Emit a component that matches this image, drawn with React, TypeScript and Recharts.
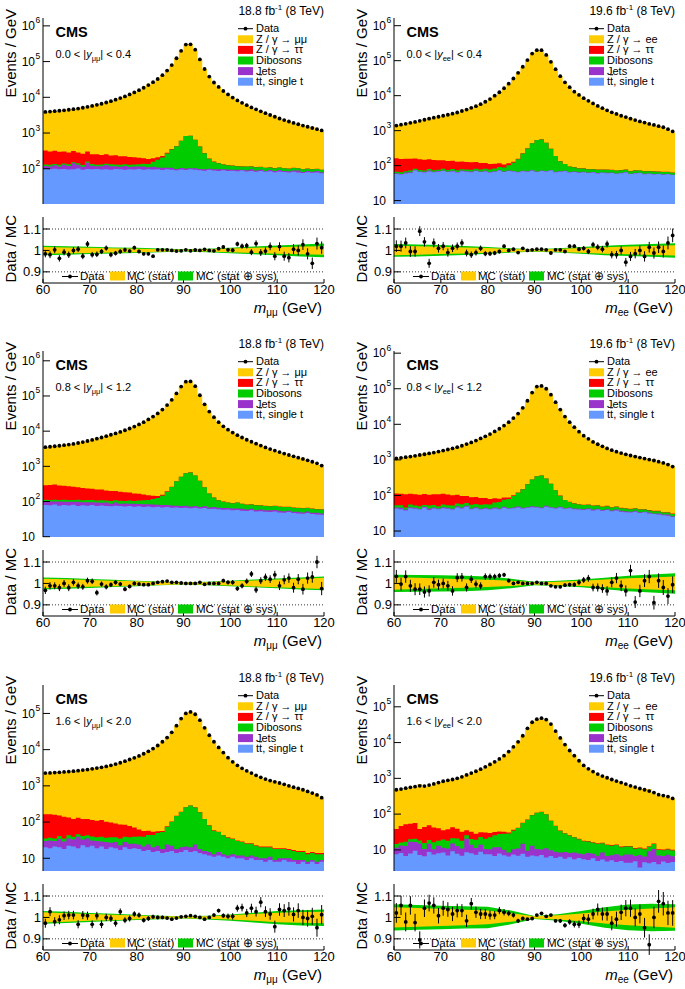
import React from "react";
import { ComposedChart, Area, Scatter, XAxis, YAxis, ErrorBar, ReferenceLine } from "recharts";

const FONT = '"Liberation Sans", Arial, Helvetica, sans-serif';

const COLOR_Z = "#ffcc00";
const COLOR_TAU = "#ff0000";
const COLOR_VV = "#00cc00";
const COLOR_JETS = "#9933cc";
const COLOR_TT = "#6699ff";

const X_TICKS = [60, 70, 80, 90, 100, 110, 120];
const BAND_X = [60, 65, 70, 75, 80, 85, 90, 95, 100, 105, 110, 115, 120];
const RATIO_TICKS = [0.9, 1, 1.1];
const RATIO_DOMAIN = [0.848, 1.156];

// ---- mu mu, 0.0 < |y| < 0.4 ----
const DATA_MM_1 = [
  3900, 3980, 4080, 4200, 4330, 4480, 4650, 4850, 5100, 5400,
  5750, 6150, 6600, 7150, 7800, 8600, 9500, 10600, 12000, 13700,
  15800, 18500, 22000, 26500, 32500, 41500, 56000, 80000, 124000, 200000,
  300000, 305000, 215000, 115000, 62000, 38000, 26000, 19500, 15000, 12000,
  9800, 8200, 7000, 6000, 5200, 4600, 4050, 3600, 3200, 2850,
  2550, 2300, 2100, 1920, 1760, 1620, 1500, 1380, 1280, 1180,
];
const TT_MM_1 = [
  98, 97, 100, 96, 99, 95, 97, 101, 94, 98, 96, 99, 95, 97, 93, 98, 96, 94, 97, 95,
  99, 93, 96, 95, 97, 92, 96, 94, 90, 95, 92, 96, 93, 91, 88, 94, 89, 87, 90, 86,
  88, 85, 89, 84, 87, 83, 86, 82, 85, 80, 84, 81, 78, 83, 79, 76, 80, 77, 79, 75,
];
const JETS_MM_1 = [
  22, 18, 25, 20, 30, 24, 45, 28, 20, 50, 26, 18, 22, 30, 24, 20, 18, 26, 15, 20,
  16, 22, 14, 18, 12, 15, 10, 12, 8, 10, 9, 8, 10, 7, 9, 6, 8, 10, 7, 9,
  6, 8, 5, 7, 9, 6, 8, 5, 7, 6, 8, 5, 7, 6, 10, 5, 7, 6, 8, 5,
];
const VV_MM_1 = [
  12, 14, 11, 13, 12, 15, 11, 14, 13, 12, 14, 13, 15, 12, 16, 14, 15, 13, 17, 16,
  18, 22, 26, 45, 70, 100, 160, 240, 330, 500, 720, 730, 540, 320, 175, 90, 60, 45, 35, 30,
  28, 25, 22, 24, 20, 21, 18, 19, 17, 18, 16, 17, 15, 16, 14, 15, 13, 14, 12, 13,
];
const TAU_MM_1 = [
  190, 175, 185, 170, 165, 150, 160, 140, 135, 145, 120, 125, 110, 115, 100, 105, 95, 90, 85, 80,
  70, 60, 50, 40, 30, 22, 15, 10, 8, 6, 5, 5, 4, 4, 3, 3, 3, 2, 2, 2,
  2, 2, 2, 1, 1, 1, 1, 1, 1, 1, 1, 1, 1, 1, 1, 1, 1, 1, 1, 1,
];
const RATIO_MM_1 = [
  0.984, 0.98, 1.003, 0.963, 0.992, 0.98, 1.0, 1.006, 0.973, 1.03,
  0.98, 0.982, 0.995, 1.011, 0.98, 0.987, 0.995, 1.003, 0.997, 1.013,
  0.995, 0.984, 0.984, 0.973, 1.003, 1.003, 1.003, 1.0, 0.997, 0.998,
  1.003, 0.998, 1.002, 1.0, 1.005, 1.0, 0.998, 1.008, 1.016, 1.003,
  1.001, 1.03, 1.02, 1.022, 0.992, 1.032, 0.99, 0.997, 1.019, 0.973,
  1.018, 0.973, 0.966, 1.006, 1.0, 1.027, 0.984, 0.94, 1.032, 1.013,
];
const ERR_MM_1 = [
  0.016, 0.016, 0.016, 0.015, 0.015, 0.015, 0.015, 0.014, 0.014, 0.014,
  0.013, 0.013, 0.012, 0.012, 0.012, 0.011, 0.01, 0.01, 0.009, 0.009,
  0.008, 0.007, 0.007, 0.006, 0.006, 0.005, 0.004, 0.004, 0.003, 0.002,
  0.002, 0.002, 0.002, 0.003, 0.004, 0.005, 0.006, 0.007, 0.008, 0.009,
  0.01, 0.011, 0.012, 0.013, 0.014, 0.015, 0.016, 0.017, 0.018, 0.019,
  0.02, 0.021, 0.022, 0.023, 0.024, 0.025, 0.026, 0.027, 0.028, 0.029,
];
const STAT_MM_1 = [0.016, 0.014, 0.012, 0.01, 0.008, 0.006, 0.003, 0.005, 0.009, 0.012, 0.015, 0.018, 0.02];
const TOT_MM_1 = [0.022, 0.02, 0.017, 0.014, 0.012, 0.009, 0.005, 0.008, 0.013, 0.018, 0.023, 0.028, 0.032];

// ---- e e, 0.0 < |y| < 0.4 ----
const DATA_EE_1 = [
  1400, 1480, 1570, 1670, 1780, 1910, 2050, 2200, 2350, 2500,
  2670, 2850, 3050, 3300, 3650, 4000, 4500, 5000, 5700, 6700,
  8000, 10000, 12500, 16300, 22000, 31000, 45000, 67000, 104000, 160000,
  200000, 200000, 146000, 93000, 57000, 36000, 24000, 17500, 13000, 10500,
  8500, 7100, 6000, 5100, 4400, 3800, 3350, 3000, 2670, 2450,
  2200, 2000, 1830, 1700, 1560, 1460, 1340, 1250, 1100, 950,
];
const TT_EE_1 = [
  58, 56, 60, 62, 72, 66, 64, 68, 65, 67, 70, 66, 68, 64, 69, 67, 65, 70, 66, 68,
  64, 67, 72, 66, 70, 68, 65, 69, 67, 71, 66, 70, 68, 72, 65, 67, 69, 64, 66, 63,
  65, 62, 64, 60, 63, 61, 62, 59, 61, 64, 58, 60, 62, 57, 59, 56, 58, 55, 57, 54,
];
const JETS_EE_1 = [
  3, 2, 4, 3, 3, 2, 3, 4, 2, 3, 3, 2, 3, 2, 3, 2, 3, 2, 2, 3,
  2, 2, 3, 2, 2, 2, 2, 2, 2, 3, 2, 2, 2, 2, 2, 2, 2, 2, 2, 2,
  2, 2, 2, 2, 1, 2, 2, 1, 2, 2, 1, 2, 1, 2, 1, 2, 1, 2, 1, 1,
];
const VV_EE_1 = [
  6, 7, 5, 8, 6, 7, 6, 8, 7, 6, 8, 7, 9, 8, 7, 9, 8, 10, 9, 10,
  12, 14, 16, 20, 30, 50, 85, 150, 240, 360, 470, 490, 380, 230, 120, 65, 40, 28, 22, 18,
  16, 15, 13, 14, 12, 13, 11, 12, 11, 10, 10, 11, 9, 10, 9, 10, 8, 9, 8, 8,
];
const TAU_EE_1 = [
  95, 90, 88, 85, 80, 78, 75, 72, 70, 66, 62, 60, 58, 55, 52, 50, 48, 45, 42, 38,
  34, 30, 25, 20, 14, 9, 6, 4, 3, 2, 2, 2, 1, 1, 1, 1, 1, 1, 1, 1,
  1, 1, 1, 1, 1, 1, 1, 1, 1, 1, 1, 1, 1, 1, 1, 1, 1, 1, 1, 1,
];
const RATIO_EE_1 = [
  1.02, 1.02, 1.035, 0.995, 0.995, 1.09, 1.04, 0.94, 1.035, 1.01,
  1.02, 0.99, 1.01, 1.02, 1.035, 0.988, 0.98, 0.99, 1.01, 0.985,
  0.985, 0.988, 0.995, 1.02, 1.0, 1.006, 0.99, 1.01, 1.0, 1.003,
  1.006, 1.006, 1.003, 0.988, 1.003, 1.003, 0.995, 1.02, 1.02, 1.006,
  1.01, 0.995, 1.027, 1.015, 1.006, 1.03, 0.98, 0.98, 1.0, 0.945,
  0.972, 0.985, 1.0, 0.972, 1.015, 0.988, 1.015, 0.995, 1.035, 1.07,
];
const ERR_EE_1 = [
  0.027, 0.026, 0.025, 0.025, 0.024, 0.023, 0.022, 0.021, 0.021, 0.02,
  0.019, 0.019, 0.018, 0.017, 0.017, 0.016, 0.015, 0.014, 0.013, 0.012,
  0.011, 0.01, 0.009, 0.008, 0.007, 0.006, 0.005, 0.004, 0.003, 0.003,
  0.002, 0.002, 0.003, 0.003, 0.004, 0.005, 0.006, 0.008, 0.009, 0.01,
  0.011, 0.012, 0.013, 0.014, 0.015, 0.016, 0.017, 0.018, 0.019, 0.02,
  0.021, 0.022, 0.023, 0.024, 0.025, 0.026, 0.027, 0.028, 0.03, 0.032,
];
const STAT_EE_1 = [0.022, 0.02, 0.017, 0.014, 0.011, 0.007, 0.004, 0.007, 0.011, 0.015, 0.018, 0.021, 0.024];
const TOT_EE_1 = [0.03, 0.028, 0.025, 0.021, 0.016, 0.01, 0.006, 0.01, 0.016, 0.022, 0.026, 0.03, 0.034];

// ---- mu mu, 0.8 < |y| < 1.2 ----
const DATA_MM_2 = [
  3500, 3600, 3720, 3850, 4000, 4150, 4350, 4600, 4900, 5250,
  5650, 6100, 6600, 7200, 7900, 8600, 9500, 10600, 11900, 13500,
  15500, 18000, 21500, 26000, 32000, 41000, 55000, 78000, 118000, 185000,
  255000, 260000, 190000, 105000, 58000, 36000, 25000, 18000, 13700, 11000,
  9100, 7700, 6600, 5700, 5000, 4400, 3900, 3450, 3100, 2800,
  2550, 2300, 2100, 1920, 1760, 1620, 1480, 1350, 1220, 1050,
];
const TT_MM_2 = [
  80, 78, 82, 76, 79, 77, 81, 75, 78, 76, 79, 74, 77, 75, 73, 76, 74, 72, 75, 71,
  73, 70, 72, 69, 71, 68, 70, 66, 68, 65, 67, 64, 66, 63, 65, 61, 62, 60, 58, 59,
  56, 57, 55, 54, 56, 52, 53, 51, 50, 52, 49, 48, 50, 47, 46, 45, 47, 44, 43, 42,
];
const JETS_MM_2 = [
  20, 22, 18, 24, 19, 21, 17, 23, 18, 20, 16, 19, 15, 18, 14, 17, 13, 16, 12, 15,
  12, 14, 11, 13, 10, 12, 9, 11, 8, 10, 9, 8, 9, 7, 8, 7, 8, 6, 7, 6,
  7, 6, 7, 5, 6, 5, 6, 5, 6, 5, 6, 5, 5, 4, 5, 4, 5, 4, 5, 4,
];
const VV_MM_2 = [
  12, 10, 13, 11, 14, 12, 13, 15, 12, 14, 15, 13, 16, 14, 17, 15, 18, 16, 19, 18,
  22, 25, 28, 35, 45, 65, 110, 180, 300, 430, 560, 600, 470, 320, 180, 100, 60, 42, 34, 28,
  26, 30, 24, 22, 20, 21, 18, 19, 17, 18, 16, 17, 15, 16, 14, 15, 13, 14, 12, 13,
];
const TAU_MM_2 = [
  180, 185, 190, 175, 170, 160, 150, 140, 135, 125, 120, 115, 110, 100, 95, 90, 85, 80, 75, 65,
  58, 50, 40, 30, 18, 10, 6, 4, 3, 2, 2, 2, 2, 1, 1, 1, 1, 1, 1, 1,
  1, 1, 1, 1, 1, 1, 1, 1, 1, 1, 1, 1, 1, 1, 1, 1, 1, 1, 1, 1,
];
const RATIO_MM_2 = [
  0.968, 0.989, 0.989, 0.98, 1.0, 0.98, 1.005, 0.989, 0.984, 1.013,
  1.01, 0.957, 0.997, 0.984, 0.994, 1.005, 0.997, 0.973, 0.986, 1.0,
  0.997, 0.994, 0.994, 1.0, 1.005, 1.008, 1.011, 1.005, 1.005, 1.002,
  1.0, 1.0, 1.0, 1.005, 0.996, 1.0, 1.0, 1.0, 1.013, 1.005,
  1.005, 0.976, 0.989, 1.01, 1.044, 0.97, 1.013, 1.029, 1.02, 1.04,
  0.989, 1.017, 1.025, 0.98, 1.02, 0.973, 1.025, 1.03, 1.1, 0.976,
];
const ERR_MM_2 = [
  0.017, 0.017, 0.016, 0.016, 0.016, 0.016, 0.015, 0.015, 0.014, 0.014,
  0.013, 0.013, 0.012, 0.012, 0.011, 0.011, 0.01, 0.01, 0.009, 0.009,
  0.008, 0.007, 0.007, 0.006, 0.006, 0.005, 0.004, 0.004, 0.003, 0.002,
  0.002, 0.002, 0.002, 0.003, 0.004, 0.005, 0.006, 0.007, 0.009, 0.01,
  0.011, 0.011, 0.012, 0.013, 0.014, 0.015, 0.016, 0.017, 0.018, 0.019,
  0.02, 0.021, 0.022, 0.023, 0.024, 0.025, 0.026, 0.027, 0.029, 0.031,
];
const STAT_MM_2 = [0.022, 0.019, 0.016, 0.013, 0.01, 0.007, 0.004, 0.006, 0.01, 0.014, 0.018, 0.022, 0.026];
const TOT_MM_2 = [0.028, 0.025, 0.021, 0.017, 0.013, 0.009, 0.005, 0.008, 0.013, 0.018, 0.023, 0.028, 0.032];

// ---- e e, 0.8 < |y| < 1.2 ----
const DATA_EE_2 = [
  1100, 1140, 1190, 1240, 1300, 1370, 1440, 1520, 1610, 1710,
  1830, 1960, 2100, 2280, 2500, 2780, 3100, 3500, 4000, 4600,
  5300, 6300, 7500, 9200, 11500, 15000, 20000, 29000, 46000, 78000,
  115000, 120000, 100000, 68000, 42000, 26000, 16500, 11500, 8300, 6200,
  4800, 3900, 3200, 2750, 2400, 2100, 1880, 1700, 1550, 1430,
  1330, 1240, 1160, 1090, 1020, 960, 890, 820, 740, 650,
];
const TT_EE_2 = [
  43, 41, 38, 44, 42, 40, 45, 39, 43, 41, 44, 42, 40, 46, 43, 48, 41, 44, 40, 42,
  40, 43, 41, 45, 42, 44, 46, 43, 45, 47, 46, 44, 48, 45, 43, 46, 42, 44, 41, 40,
  39, 41, 38, 40, 37, 39, 36, 38, 35, 34, 33, 35, 32, 34, 31, 30, 29, 28, 27, 25,
];
const JETS_EE_2 = [
  3, 4, 2, 3, 3, 2, 3, 4, 3, 2, 3, 3, 2, 4, 3, 3, 2, 3, 2, 3,
  2, 3, 2, 3, 2, 2, 3, 2, 2, 3, 2, 2, 3, 2, 2, 2, 2, 2, 2, 2,
  2, 2, 2, 2, 2, 2, 2, 2, 2, 2, 2, 2, 2, 1, 2, 1, 2, 1, 2, 1,
];
const VV_EE_2 = [
  7, 8, 6, 9, 7, 8, 6, 9, 8, 7, 9, 8, 10, 9, 11, 10, 12, 11, 13, 12,
  14, 17, 22, 28, 35, 50, 70, 105, 160, 230, 300, 320, 250, 165, 95, 50, 30, 20, 16, 14,
  13, 12, 11, 10, 9, 9, 8, 8, 7, 7, 6, 6, 6, 5, 5, 5, 5, 4, 4, 4,
];
const TAU_EE_2 = [
  60, 58, 62, 55, 57, 54, 56, 52, 55, 58, 56, 53, 50, 45, 40, 36, 34, 32, 30, 28,
  24, 20, 16, 12, 8, 5, 3, 2, 2, 2, 1, 1, 1, 1, 1, 1, 1, 1, 1, 1,
  1, 1, 1, 1, 1, 1, 1, 1, 1, 1, 1, 1, 1, 1, 1, 1, 1, 1, 1, 1,
];
const RATIO_EE_2 = [
  1.033, 0.997, 1.032, 0.989, 0.973, 0.973, 0.96, 0.965, 1.005, 0.994,
  1.0, 0.989, 0.965, 1.027, 1.029, 0.981, 1.02, 0.997, 0.989, 1.032,
  1.032, 1.032, 1.036, 1.04, 1.013, 1.0, 1.005, 1.0, 1.0, 1.0,
  1.005, 1.0, 1.0, 0.989, 0.984, 0.984, 0.992, 0.994, 0.994, 1.005,
  1.016, 1.024, 0.981, 0.981, 0.976, 0.965, 1.005, 1.025, 0.989, 0.965,
  1.06, 0.913, 0.965, 1.013, 1.032, 0.91, 1.013, 0.981, 0.941, 0.994,
];
const ERR_EE_2 = [
  0.03, 0.03, 0.029, 0.028, 0.028, 0.027, 0.026, 0.026, 0.025, 0.024,
  0.023, 0.023, 0.022, 0.021, 0.02, 0.019, 0.018, 0.017, 0.016, 0.015,
  0.014, 0.013, 0.012, 0.01, 0.009, 0.008, 0.007, 0.006, 0.005, 0.004,
  0.003, 0.003, 0.003, 0.004, 0.005, 0.006, 0.008, 0.009, 0.011, 0.013,
  0.014, 0.016, 0.018, 0.019, 0.02, 0.022, 0.023, 0.024, 0.025, 0.026,
  0.027, 0.028, 0.029, 0.03, 0.031, 0.032, 0.034, 0.035, 0.037, 0.039,
];
const STAT_EE_2 = [0.029, 0.026, 0.023, 0.02, 0.017, 0.012, 0.005, 0.008, 0.012, 0.018, 0.024, 0.028, 0.032];
const TOT_EE_2 = [0.04, 0.039, 0.038, 0.036, 0.032, 0.022, 0.008, 0.012, 0.018, 0.027, 0.036, 0.042, 0.048];

// ---- mu mu, 1.6 < |y| < 2.0 ----
const DATA_MM_3 = [
  2250, 2280, 2320, 2370, 2420, 2480, 2550, 2630, 2720, 2820,
  2950, 3100, 3250, 3450, 3700, 4000, 4350, 4800, 5350, 5950,
  6700, 7700, 9000, 10700, 13000, 16500, 21500, 30000, 46000, 72000,
  100000, 110000, 95000, 65000, 40000, 25000, 16500, 11500, 8300, 6000,
  4600, 3700, 3050, 2600, 2250, 1950, 1720, 1540, 1400, 1290,
  1200, 1100, 1000, 920, 850, 780, 700, 630, 560, 470,
];
const TT_MM_3 = [
  20, 19, 21, 20, 18, 22, 21, 19, 23, 20, 22, 19, 21, 18, 20, 19, 17, 20, 18, 19,
  18, 16, 17, 15, 16, 14, 15, 16, 14, 15, 17, 15, 16, 14, 13, 12, 11, 12, 11, 10,
  11, 10, 10, 9, 10, 9, 9, 8, 9, 8, 8, 9, 8, 8, 7, 8, 7, 8, 7, 8,
];
const JETS_MM_3 = [
  10, 12, 9, 14, 11, 13, 12, 20, 10, 16, 9, 11, 8, 10, 7, 9, 6, 8, 7, 6,
  6, 5, 7, 5, 6, 4, 9, 6, 4, 5, 4, 5, 8, 4, 3, 3, 2, 3, 2, 2,
  2, 2, 2, 2, 2, 2, 1, 2, 2, 1, 2, 1, 2, 1, 2, 1, 1, 1, 1, 1,
];
const VV_MM_3 = [
  5, 6, 5, 7, 6, 8, 6, 7, 8, 7, 9, 8, 10, 9, 11, 10, 12, 11, 13, 14,
  16, 18, 20, 24, 28, 35, 50, 80, 130, 170, 235, 265, 230, 170, 105, 65, 45, 38, 30, 25,
  21, 18, 16, 14, 13, 11, 10, 10, 9, 9, 8, 8, 7, 7, 6, 6, 5, 5, 5, 4,
];
const TAU_MM_3 = [
  130, 128, 125, 110, 105, 90, 82, 85, 80, 78, 74, 70, 75, 65, 60, 53, 50, 45, 40, 32,
  22, 18, 14, 10, 6, 4, 3, 2, 2, 2, 1, 1, 1, 1, 1, 1, 1, 1, 1, 1,
  1, 1, 1, 1, 1, 1, 1, 1, 1, 1, 1, 1, 1, 1, 1, 1, 1, 1, 1, 1,
];
const RATIO_MM_3 = [
  0.973, 1.027, 0.98, 0.989, 1.008, 1.011, 1.011, 0.968, 1.011, 1.008,
  0.968, 1.008, 0.968, 1.0, 0.995, 0.973, 1.027, 0.987, 0.995, 1.016,
  1.011, 0.987, 0.995, 1.003, 1.0, 1.0, 0.997, 0.992, 0.997, 1.003,
  1.005, 1.008, 1.005, 1.0, 0.992, 1.0, 1.011, 1.032, 1.008, 1.005,
  1.005, 1.043, 1.046, 1.021, 1.043, 1.027, 1.071, 1.027, 1.016, 0.957,
  1.037, 1.032, 1.04, 1.014, 1.032, 1.0, 0.995, 1.005, 0.952, 1.013,
];
const ERR_MM_3 = [
  0.021, 0.021, 0.021, 0.021, 0.02, 0.02, 0.02, 0.019, 0.019, 0.019,
  0.018, 0.018, 0.018, 0.017, 0.016, 0.016, 0.015, 0.014, 0.014, 0.013,
  0.012, 0.011, 0.011, 0.01, 0.009, 0.008, 0.007, 0.006, 0.005, 0.004,
  0.003, 0.003, 0.003, 0.004, 0.005, 0.006, 0.008, 0.009, 0.011, 0.013,
  0.015, 0.016, 0.018, 0.019, 0.021, 0.023, 0.024, 0.025, 0.027, 0.028,
  0.029, 0.03, 0.032, 0.033, 0.034, 0.036, 0.038, 0.04, 0.042, 0.045,
];
const STAT_MM_3 = [0.024, 0.02, 0.016, 0.013, 0.009, 0.006, 0.004, 0.006, 0.01, 0.016, 0.022, 0.025, 0.027];
const TOT_MM_3 = [0.03, 0.026, 0.021, 0.017, 0.012, 0.008, 0.005, 0.008, 0.014, 0.022, 0.03, 0.034, 0.037];
const TOT_LO_MM_3 = [0.03, 0.026, 0.021, 0.017, 0.012, 0.008, 0.005, 0.01, 0.016, 0.024, 0.032, 0.038, 0.04];

// ---- e e, 1.6 < |y| < 2.0 ----
const DATA_EE_3 = [
  480, 500, 530, 560, 590, 620, 610, 650, 700, 760,
  830, 880, 930, 1000, 1100, 1250, 1400, 1580, 1800, 2100,
  2450, 2900, 3500, 4300, 5600, 7600, 10500, 15500, 25000, 37000,
  45000, 48000, 44000, 33000, 21000, 13500, 8800, 6000, 4300, 3100,
  2300, 1850, 1550, 1320, 1160, 1040, 930, 840, 760, 690,
  620, 570, 520, 480, 440, 400, 350, 330, 310, 275,
];
const TT_EE_3 = [
  7.5, 8.2, 6.8, 7.9, 9.5, 7.2, 6.6, 8.8, 7.4, 8.1, 8.4, 7.0, 9.2, 7.8, 6.9, 8.6, 8.0, 7.3, 8.9, 7.6,
  7.5, 6.8, 7.9, 7.1, 6.5, 7.4, 6.9, 7.8, 6.4, 7.0, 6.6, 7.2, 6.1, 6.8, 5.9, 6.4, 5.7, 6.2, 5.5, 5.9,
  5.5, 5.2, 5.8, 4.9, 5.4, 4.7, 5.1, 4.6, 4.9, 4.4, 4.4, 4.8, 3.2, 4.5, 4.2, 4.6, 4.0, 4.7, 4.3, 4.6,
];
const JETS_EE_3 = [
  4, 5, 6, 9, 7, 8, 4, 6, 3, 5, 3, 4, 6, 5, 4, 12, 6, 4, 5, 3,
  3, 5, 4, 3, 2, 3, 4, 7, 3, 6, 4, 3, 5, 3, 3, 2, 3, 2, 3, 2,
  2, 3, 2, 2, 3, 2, 2, 3, 2, 3, 3, 2, 4, 2, 5, 6, 3, 2, 3, 2,
];
const VV_EE_3 = [
  3, 3, 4, 3, 4, 3, 5, 4, 6, 5, 8, 7, 6, 8, 7, 5, 6, 8, 9, 10,
  12, 14, 16, 18, 20, 24, 30, 42, 60, 80, 98, 105, 88, 55, 38, 26, 20, 17, 14, 12,
  10, 9, 8, 8, 7, 7, 6, 6, 5, 5, 5, 4, 4, 4, 3, 4, 3, 3, 3, 3,
];
const TAU_EE_3 = [
  24, 30, 35, 34, 36, 20, 28, 30, 26, 22, 16, 20, 22, 18, 14, 10, 12, 9, 8, 10,
  7, 6, 5, 4, 2, 2, 1, 1, 1, 1, 0.5, 0.5, 0.5, 0.5, 0.5, 0.5, 0.5, 0.5, 0.5, 0.5,
  0.5, 0.5, 0.5, 0.5, 0.5, 0.5, 0.5, 0.5, 0.5, 0.5, 0.5, 0.5, 0.5, 0.5, 0.5, 0.5, 0.5, 0.5, 0.5, 0.5,
];
const RATIO_EE_3 = [
  1.021, 1.056, 0.979, 1.056, 0.976, 0.895, 1.043, 1.067, 1.056, 1.008,
  1.043, 1.037, 1.016, 1.032, 1.032, 0.984, 1.064, 1.024, 1.016, 1.016,
  1.011, 1.011, 1.032, 1.024, 1.019, 1.011, 0.984, 0.995, 0.992, 0.995,
  1.011, 1.019, 1.005, 1.011, 0.984, 0.984, 0.963, 0.979, 0.968, 0.968,
  0.995, 0.992, 1.016, 1.037, 1.016, 1.016, 0.973, 0.992, 1.024, 1.043,
  1.043, 1.0, 1.016, 0.952, 0.873, 1.0, 1.075, 1.064, 1.021, 1.021,
];
const ERR_EE_3 = [
  0.046, 0.045, 0.044, 0.043, 0.041, 0.04, 0.041, 0.039, 0.038, 0.036,
  0.035, 0.034, 0.033, 0.032, 0.03, 0.029, 0.027, 0.026, 0.024, 0.023,
  0.021, 0.019, 0.017, 0.015, 0.013, 0.012, 0.01, 0.008, 0.006, 0.005,
  0.005, 0.005, 0.005, 0.006, 0.007, 0.009, 0.011, 0.013, 0.015, 0.018,
  0.021, 0.023, 0.025, 0.028, 0.03, 0.031, 0.033, 0.035, 0.036, 0.038,
  0.04, 0.042, 0.044, 0.046, 0.048, 0.05, 0.053, 0.055, 0.057, 0.06,
];
const STAT_EE_3 = [0.047, 0.044, 0.04, 0.036, 0.032, 0.02, 0.005, 0.01, 0.018, 0.028, 0.036, 0.042, 0.048];
const TOT_EE_3 = [0.061, 0.058, 0.055, 0.052, 0.05, 0.032, 0.007, 0.015, 0.03, 0.048, 0.06, 0.064, 0.062];

const PANELS = [
  { ch: "μμ", lumi: "18.8", yLo: "0.0", yHi: "0.4", yDomain: [10.3, 1.66e6], data: DATA_MM_1, tt: TT_MM_1, jets: JETS_MM_1, vv: VV_MM_1, tau: TAU_MM_1, ratio: RATIO_MM_1, err: ERR_MM_1, stat: STAT_MM_1, tot: TOT_MM_1 },
  { ch: "ee", lumi: "19.6", yLo: "0.0", yHi: "0.4", yDomain: [8.0, 1.66e6], data: DATA_EE_1, tt: TT_EE_1, jets: JETS_EE_1, vv: VV_EE_1, tau: TAU_EE_1, ratio: RATIO_EE_1, err: ERR_EE_1, stat: STAT_EE_1, tot: TOT_EE_1 },
  { ch: "μμ", lumi: "18.8", yLo: "0.8", yHi: "1.2", yDomain: [9.8, 1.9e6], data: DATA_MM_2, tt: TT_MM_2, jets: JETS_MM_2, vv: VV_MM_2, tau: TAU_MM_2, ratio: RATIO_MM_2, err: ERR_MM_2, stat: STAT_MM_2, tot: TOT_MM_2 },
  { ch: "ee", lumi: "19.6", yLo: "0.8", yHi: "1.2", yDomain: [6.8, 1.15e6], data: DATA_EE_2, tt: TT_EE_2, jets: JETS_EE_2, vv: VV_EE_2, tau: TAU_EE_2, ratio: RATIO_EE_2, err: ERR_EE_2, stat: STAT_EE_2, tot: TOT_EE_2 },
  { ch: "μμ", lumi: "18.8", yLo: "1.6", yHi: "2.0", yDomain: [4.45, 6.1e5], data: DATA_MM_3, tt: TT_MM_3, jets: JETS_MM_3, vv: VV_MM_3, tau: TAU_MM_3, ratio: RATIO_MM_3, err: ERR_MM_3, stat: STAT_MM_3, tot: TOT_MM_3, totLo: TOT_LO_MM_3 },
  { ch: "ee", lumi: "19.6", yLo: "1.6", yHi: "2.0", yDomain: [2.57, 4.07e5], data: DATA_EE_3, tt: TT_EE_3, jets: JETS_EE_3, vv: VV_EE_3, tau: TAU_EE_3, ratio: RATIO_EE_3, err: ERR_EE_3, stat: STAT_EE_3, tot: TOT_EE_3 },
];

// layout (px)
const COL_X = [43, 394];
const ROW_Y = [0, 333, 667];
const PW = 281;
const YW = 43;
const PAD = 9; // room round each chart so edge labels are not clipped
const MAIN_TOP = 18;
const MAIN_H = 186;
const RATIO_TOP = 217;
const RATIO_H = 66;
const XLAB_H = 24;

const LINE = { stroke: "#000", strokeWidth: 1 };
const CHART_MARGIN = { top: PAD, right: PAD + 6, bottom: PAD, left: 0 };
const X_MINOR = Array.from({ length: 31 }, (_, i) => 60 + 2 * i);
const RATIO_MINOR = Array.from({ length: 15 }, (_, i) => Math.round((0.86 + 0.02 * i) * 100) / 100);

function logTicks(lo: number, hi: number) {
  const majors: number[] = [];
  const minors: number[] = [];
  for (let e = Math.floor(Math.log10(lo)); e <= Math.ceil(Math.log10(hi)); e++) {
    const base = Math.pow(10, e);
    if (base >= lo && base <= hi) majors.push(base);
    for (let m = 2; m <= 9; m++) {
      const v = m * base;
      if (v >= lo && v <= hi) minors.push(v);
    }
  }
  return { majors, minors };
}

const DataDot = (props: any) => <circle cx={props.cx} cy={props.cy} r={1.9} fill="#000" />;

function LogTick(props: any) {
  const { x, y, payload } = props;
  const exp = Math.round(Math.log10(payload.value));
  return (
    <g fontFamily={FONT} fill="#000">
      <text x={x} y={y + 4.3} textAnchor="end" fontSize={12}>10</text>
      {exp > 1 && (
        <text x={x + 0.5} y={y - 2.5} textAnchor="start" fontSize={8.5}>{exp}</text>
      )}
    </g>
  );
}

function MainPlot({ p, px, py }: any) {
  const rows: any[] = [];
  const n = p.data.length;
  for (let i = 0; i <= n; i++) {
    const k = Math.min(i, n - 1);
    const tt = p.tt[k];
    const jets = tt + p.jets[k];
    const vv = jets + p.vv[k];
    const tau = vv + p.tau[k];
    const mc = Math.max(p.data[k] / p.ratio[k], tau);
    rows.push({ x: 60 + i, tt, jets, vv, tau, mc });
  }
  const points = p.data.map((v: number, i: number) => ({ x: 60.5 + i, y: v }));
  const [lo, hi] = p.yDomain;
  const { majors, minors } = logTicks(lo, hi);
  const layers: [string, string][] = [
    ["mc", COLOR_Z],
    ["tau", COLOR_TAU],
    ["vv", COLOR_VV],
    ["jets", COLOR_JETS],
    ["tt", COLOR_TT],
  ];
  const xCommon = { type: "number" as const, domain: [60, 120], allowDataOverflow: true, interval: 0 as const, tick: false, tickLine: LINE };
  const yCommon = { type: "number" as const, scale: "log" as const, domain: [lo, hi], allowDataOverflow: true, interval: 0 as const, tickLine: LINE };
  return (
    <div style={{ position: "absolute", left: px - YW, top: py - PAD }}>
      <ComposedChart width={YW + PW + PAD + 6} height={MAIN_H + 2 * PAD} data={rows} margin={CHART_MARGIN}>
        {layers.map(([key, color]) => (
          <Area
            key={key}
            xAxisId="x"
            yAxisId="y"
            type="stepAfter"
            dataKey={key}
            stroke="none"
            fill={color}
            fillOpacity={1}
            baseValue={lo}
            isAnimationActive={false}
          />
        ))}
        <Scatter xAxisId="x" yAxisId="y" data={points} dataKey="y" shape={DataDot} isAnimationActive={false} />
        <XAxis xAxisId="xm" {...xCommon} ticks={X_MINOR} height={0} tickSize={-2.8} axisLine={false} />
        <XAxis xAxisId="x" dataKey="x" {...xCommon} ticks={X_TICKS} height={0} tickSize={-5.5} axisLine={LINE} />
        <XAxis xAxisId="xtm" orientation="top" {...xCommon} ticks={X_MINOR} height={0} tickSize={-2.8} axisLine={false} />
        <XAxis xAxisId="xt" orientation="top" {...xCommon} ticks={X_TICKS} height={0} tickSize={-5.5} axisLine={LINE} />
        <YAxis yAxisId="ym" {...yCommon} ticks={minors} width={0} tick={false} tickSize={-3.5} axisLine={false} />
        <YAxis yAxisId="y" {...yCommon} ticks={majors} width={YW} tick={<LogTick />} tickSize={-7} tickMargin={15} axisLine={LINE} />
        <YAxis yAxisId="yrm" orientation="right" {...yCommon} ticks={minors} width={0} tick={false} tickSize={-3.5} axisLine={false} />
        <YAxis yAxisId="yr" orientation="right" {...yCommon} ticks={majors} width={0} tick={false} tickSize={-7} axisLine={LINE} />
      </ComposedChart>
    </div>
  );
}

function RatioPlot({ p, px, py }: any) {
  const lowTot = p.totLo || p.tot;
  const band = BAND_X.map((x, i) => ({
    x,
    tot: [1 - lowTot[i], 1 + p.tot[i]],
    stat: [1 - p.stat[i], 1 + p.stat[i]],
  }));
  const points = p.ratio.map((r: number, i: number) => ({ x: 60.5 + i, y: r, e: p.err[i] }));
  const xCommon = { type: "number" as const, domain: [60, 120], allowDataOverflow: true, interval: 0 as const, tickLine: LINE };
  const yCommon = { type: "number" as const, domain: RATIO_DOMAIN, allowDataOverflow: true, interval: 0 as const, tickLine: LINE };
  const tickFont = { fontSize: 13, fill: "#000", fontFamily: FONT };
  return (
    <div style={{ position: "absolute", left: px - YW, top: py - PAD }}>
      <ComposedChart
        width={YW + PW + PAD + 6}
        height={RATIO_H + XLAB_H + 2 * PAD}
        data={band}
        margin={CHART_MARGIN}
      >
        <Area xAxisId="x" yAxisId="y" type="linear" dataKey="tot" stroke="none" fill={COLOR_VV} fillOpacity={1} isAnimationActive={false} />
        <Area xAxisId="x" yAxisId="y" type="linear" dataKey="stat" stroke="none" fill={COLOR_Z} fillOpacity={1} isAnimationActive={false} />
        <ReferenceLine xAxisId="x" yAxisId="y" y={1.1} stroke="#000" strokeWidth={0.8} strokeDasharray="1 2" />
        <ReferenceLine xAxisId="x" yAxisId="y" y={0.9} stroke="#000" strokeWidth={0.8} strokeDasharray="1 2" />
        <Scatter xAxisId="x" yAxisId="y" data={points} dataKey="y" shape={DataDot} isAnimationActive={false}>
          <ErrorBar dataKey="e" direction="y" width={0} stroke="#000" strokeWidth={1} />
        </Scatter>
        <XAxis xAxisId="xm" {...xCommon} ticks={X_MINOR} height={0} tick={false} tickSize={-2} axisLine={false} />
        <XAxis xAxisId="x" dataKey="x" {...xCommon} ticks={X_TICKS} height={XLAB_H} tick={tickFont} tickSize={-4} tickMargin={6} axisLine={LINE} />
        <XAxis xAxisId="xtm" orientation="top" {...xCommon} ticks={X_MINOR} height={0} tick={false} tickSize={-2} axisLine={false} />
        <XAxis xAxisId="xt" orientation="top" {...xCommon} ticks={X_TICKS} height={0} tick={false} tickSize={-4} axisLine={LINE} />
        <YAxis yAxisId="ym" {...yCommon} ticks={RATIO_MINOR} width={0} tick={false} tickSize={-3.5} axisLine={false} />
        <YAxis
          yAxisId="y"
          {...yCommon}
          ticks={RATIO_TICKS}
          width={YW}
          tick={tickFont}
          tickFormatter={(v: number) => (v === 1 ? "1" : v.toFixed(1))}
          tickSize={-6.5}
          tickMargin={8.5}
          axisLine={LINE}
        />
        <YAxis yAxisId="yrm" orientation="right" {...yCommon} ticks={RATIO_MINOR} width={0} tick={false} tickSize={-3.5} axisLine={false} />
        <YAxis yAxisId="yr" orientation="right" {...yCommon} ticks={RATIO_TICKS} width={0} tick={false} tickSize={-6.5} axisLine={LINE} />
      </ComposedChart>
    </div>
  );
}

function PanelText({ p, px, ry }: any) {
  const pr = px + PW;
  const legend: { label: React.ReactNode; color: string }[] = [
    { label: `Z / γ → ${p.ch}`, color: COLOR_Z },
    { label: "Z / γ → ττ", color: COLOR_TAU },
    { label: "Dibosons", color: COLOR_VV },
    { label: "Jets", color: COLOR_JETS },
    {
      label: (
        <>
          t<tspan textDecoration="overline">t</tspan>, single t
        </>
      ),
      color: COLOR_TT,
    },
  ];
  const lb = (k: number) => ry + 32.2 + k * 10.6;
  const rb = ry + 280;
  return (
    <g fontFamily={FONT} fill="#000">
      <text x={pr} y={ry + 15} textAnchor="end" fontSize={12}>
        {p.lumi} fb<tspan dy={-5} fontSize={8}>-1</tspan>
        <tspan dy={5}> (8 TeV)</tspan>
      </text>
      <text x={px + 12.5} y={ry + 37} fontSize={14.5} fontWeight="bold">CMS</text>
      <text x={px + 12.5} y={ry + 58} fontSize={11}>
        {p.yLo} &lt; |<tspan fontStyle="italic">y</tspan>
        <tspan fontSize={7.5} dy={3}>{p.ch}</tspan>
        <tspan dy={-3}>| &lt; {p.yHi}</tspan>
      </text>
      <line x1={pr - 86} x2={pr - 71} y1={lb(0) - 3.5} y2={lb(0) - 3.5} stroke="#000" strokeWidth={1} />
      <circle cx={pr - 78.5} cy={lb(0) - 3.5} r={1.9} fill="#000" />
      <text x={pr - 68} y={lb(0)} fontSize={11}>Data</text>
      {legend.map((e, k) => (
        <g key={k}>
          <rect x={pr - 86} y={lb(k + 1) - 7.5} width={15} height={8} fill={e.color} />
          <text x={pr - 68} y={lb(k + 1)} fontSize={11}>{e.label}</text>
        </g>
      ))}
      <text transform={`translate(${px - 27.5}, ${ry + 9}) rotate(-90)`} textAnchor="end" fontSize={15}>Events / GeV</text>
      <text transform={`translate(${px - 27.5}, ${ry + 215}) rotate(-90)`} textAnchor="end" fontSize={15}>Data / MC</text>
      <text x={pr - 2} y={ry + 312.5} textAnchor="end" fontSize={15}>
        <tspan fontStyle="italic">m</tspan>
        <tspan fontSize={10} dy={3.5}>{p.ch}</tspan>
        <tspan dy={-3.5}> (GeV)</tspan>
      </text>
      <line x1={px + 19} x2={px + 35} y1={rb - 3.5} y2={rb - 3.5} stroke="#000" strokeWidth={1} />
      <circle cx={px + 27} cy={rb - 3.5} r={1.9} fill="#000" />
      <text x={px + 37} y={rb} fontSize={11.5}>Data</text>
      <rect x={px + 67} y={rb - 8.5} width={15} height={9} fill={COLOR_Z} />
      <text x={px + 84} y={rb} fontSize={11.5}>MC (stat)</text>
      <rect x={px + 135} y={rb - 8.5} width={15} height={9} fill={COLOR_VV} />
      <text x={px + 153} y={rb} fontSize={11.5}>MC (stat ⊕ sys)</text>
    </g>
  );
}

export default function App() {
  return (
    <div style={{ position: "absolute", left: 0, top: 0, width: 685, height: 989, background: "#fff", fontFamily: FONT, overflow: "hidden" }}>
      {PANELS.map((p, idx) => {
        const px = COL_X[idx % 2];
        const ry = ROW_Y[Math.floor(idx / 2)];
        return (
          <React.Fragment key={idx}>
            <MainPlot p={p} px={px} py={ry + MAIN_TOP} />
            <RatioPlot p={p} px={px} py={ry + RATIO_TOP} />
          </React.Fragment>
        );
      })}
      <svg width={685} height={989} style={{ position: "absolute", left: 0, top: 0, pointerEvents: "none" }}>
        {PANELS.map((p, idx) => (
          <PanelText key={idx} p={p} px={COL_X[idx % 2]} ry={ROW_Y[Math.floor(idx / 2)]} />
        ))}
      </svg>
    </div>
  );
}
